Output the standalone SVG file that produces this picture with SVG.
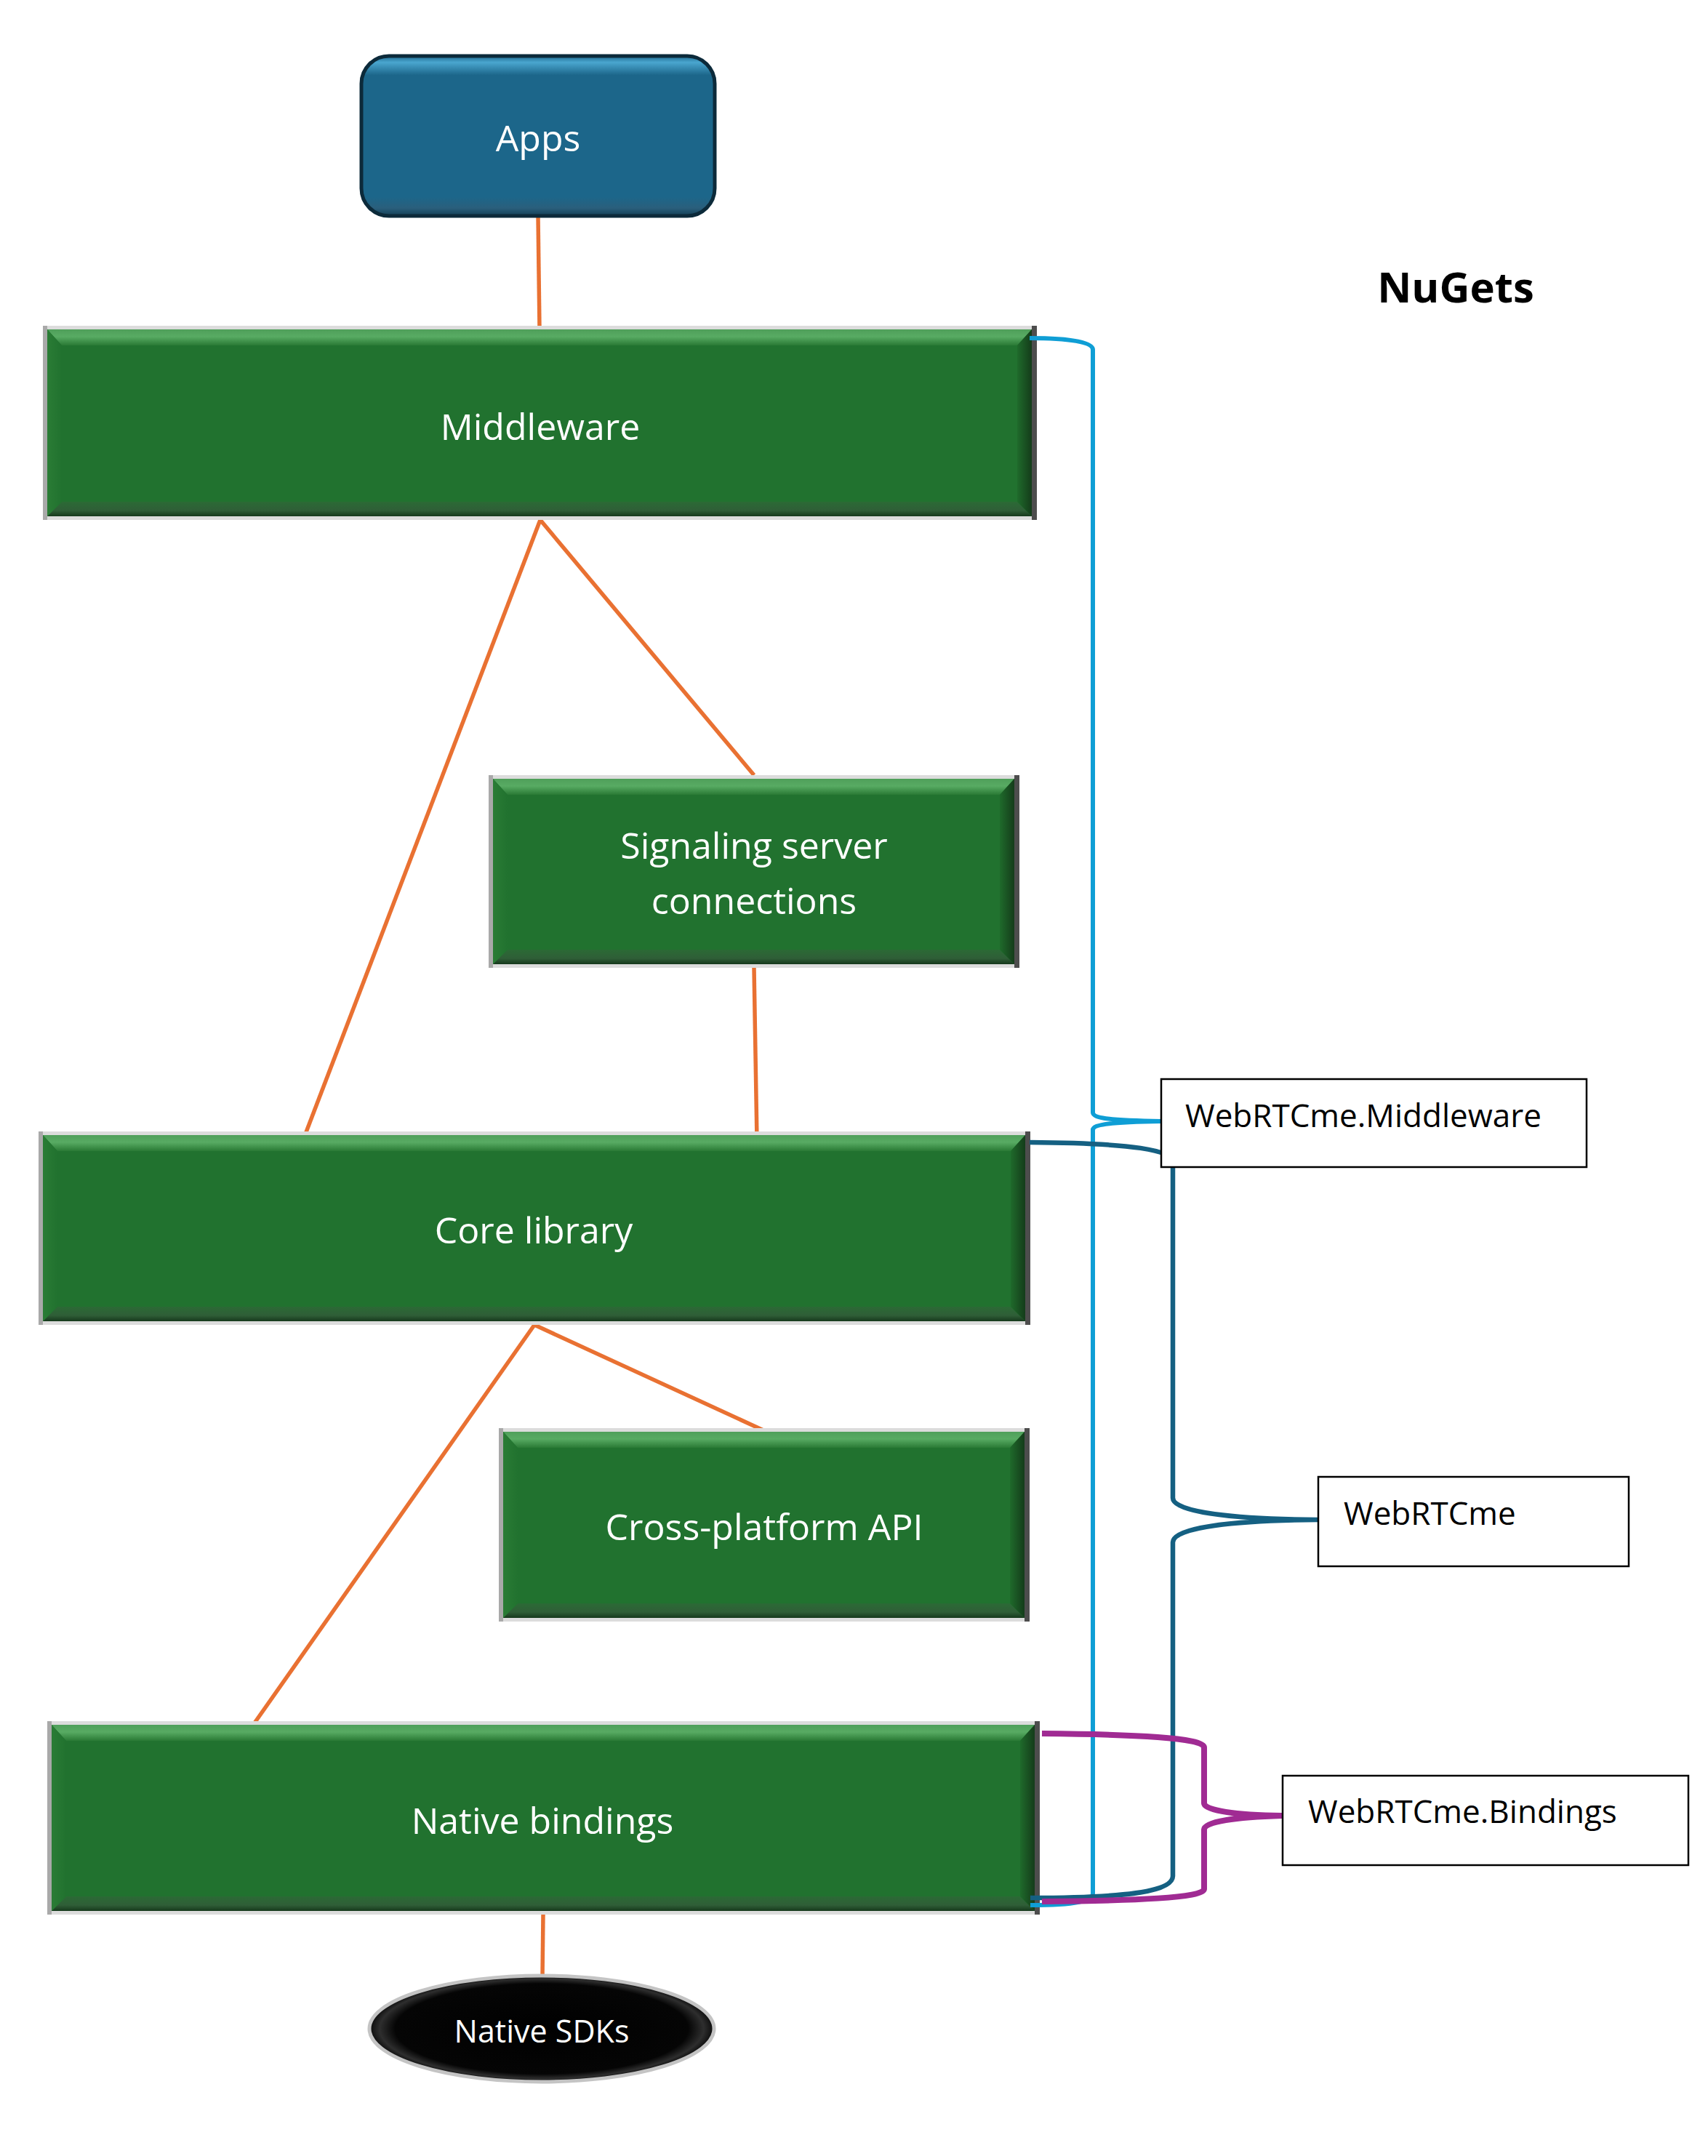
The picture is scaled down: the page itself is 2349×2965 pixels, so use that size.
<svg xmlns="http://www.w3.org/2000/svg" width="2349" height="2965" viewBox="0 0 2349 2965">
<style>
.box-text{font-family:"Open Sans","Noto Sans",sans-serif;font-size:50px;fill:#ffffff;text-anchor:middle}
.lbl-text{font-family:"Open Sans","Noto Sans",sans-serif;font-size:44px;fill:#000000}
.lbl-box{fill:#ffffff;stroke:#000000;stroke-width:2.5}
.conn{stroke:#E97132;stroke-width:5.5;fill:none;stroke-linecap:butt}
.brace{fill:none;stroke-linejoin:round}
.face{fill:#21722F}
.edge-light{fill:#dcdcdc}
.edge-left{fill:#a9a9a9}
.edge-right{fill:#4d4d4d}
</style>
<defs>
<linearGradient id="bevTop" x1="0" y1="0" x2="0" y2="1">
<stop offset="0" stop-color="#4f9f5a"/><stop offset="0.45" stop-color="#58ab63"/><stop offset="1" stop-color="#2a7a35"/>
</linearGradient>
<linearGradient id="bevBot" x1="0" y1="0" x2="0" y2="1">
<stop offset="0" stop-color="#2b6a35"/><stop offset="0.6" stop-color="#2f5e37"/><stop offset="1" stop-color="#16391c"/>
</linearGradient>
<linearGradient id="bevRight" x1="0" y1="0" x2="1" y2="0">
<stop offset="0" stop-color="#1f6a2b"/><stop offset="1" stop-color="#143c1a"/>
</linearGradient>
<linearGradient id="bevLeft" x1="0" y1="0" x2="1" y2="0">
<stop offset="0" stop-color="#2a7c35"/><stop offset="1" stop-color="#21722F"/>
</linearGradient>
<linearGradient id="appsGrad" x1="0" y1="0" x2="0" y2="1">
<stop offset="0" stop-color="#1f6a8f"/><stop offset="0.04" stop-color="#4aa6cf"/><stop offset="0.12" stop-color="#1c668a"/><stop offset="0.88" stop-color="#1c668a"/><stop offset="0.95" stop-color="#2a5f7c"/><stop offset="1" stop-color="#143f55"/>
</linearGradient>
<radialGradient id="sdkGrad" cx="0.5" cy="0.5" r="0.5">
<stop offset="0" stop-color="#000000"/><stop offset="0.85" stop-color="#050505"/><stop offset="0.94" stop-color="#2e2e2e"/><stop offset="1" stop-color="#0a0a0a"/>
</radialGradient>
</defs>
<rect x="0" y="0" width="2349" height="2965" fill="#ffffff"/>

<g id="connectors">
<line class="conn" x1="740" y1="297" x2="742" y2="452"/>
<line class="conn" x1="743" y1="715" x2="1037" y2="1066"/>
<line class="conn" x1="743" y1="715" x2="416" y2="1570"/>
<line class="conn" x1="1037" y1="1331" x2="1041" y2="1568"/>
<line class="conn" x1="735" y1="1822" x2="1050" y2="1967"/>
<line class="conn" x1="735" y1="1822" x2="344" y2="2378"/>
<line class="conn" x1="747" y1="2633" x2="746" y2="2718"/>
</g>

<g id="apps">
<rect x="497" y="77" width="486" height="220" rx="38" ry="38" fill="url(#appsGrad)" stroke="#0c2a3a" stroke-width="5"/>
<text class="box-text" x="740" y="208">Apps</text>
</g>

<g id="middleware">
<rect class="edge-light" x="59" y="448" width="1367" height="267"/>
<rect class="edge-left" x="59" y="448" width="6" height="267"/>
<rect class="edge-right" x="1419" y="448" width="7" height="267"/>
<rect class="face" x="65" y="453" width="1354" height="257"/>
<polygon fill="url(#bevTop)" points="65,453 1419,453 1399,475 85,475"/>
<polygon fill="url(#bevBot)" points="65,710 1419,710 1399,690 85,690"/>
<polygon fill="url(#bevRight)" points="1419,453 1419,710 1399,690 1399,475"/>
<polygon fill="url(#bevLeft)" points="65,453 65,710 85,690 85,475"/>
<text class="box-text" x="743" y="605">Middleware</text>
</g>

<g id="signaling">
<rect class="edge-light" x="672" y="1066" width="730" height="265"/>
<rect class="edge-left" x="672" y="1066" width="6" height="265"/>
<rect class="edge-right" x="1395" y="1066" width="7" height="265"/>
<rect class="face" x="678" y="1071" width="717" height="255"/>
<polygon fill="url(#bevTop)" points="678,1071 1395,1071 1375,1093 698,1093"/>
<polygon fill="url(#bevBot)" points="678,1326 1395,1326 1375,1306 698,1306"/>
<polygon fill="url(#bevRight)" points="1395,1071 1395,1326 1375,1306 1375,1093"/>
<polygon fill="url(#bevLeft)" points="678,1071 678,1326 698,1306 698,1093"/>
<text class="box-text" x="1037" y="1181">Signaling server</text>
<text class="box-text" x="1037" y="1257">connections</text>
</g>

<g id="core">
<rect class="edge-light" x="53" y="1556" width="1364" height="266"/>
<rect class="edge-left" x="53" y="1556" width="6" height="266"/>
<rect class="edge-right" x="1410" y="1556" width="7" height="266"/>
<rect class="face" x="59" y="1561" width="1351" height="256"/>
<polygon fill="url(#bevTop)" points="59,1561 1410,1561 1390,1583 79,1583"/>
<polygon fill="url(#bevBot)" points="59,1817 1410,1817 1390,1797 79,1797"/>
<polygon fill="url(#bevRight)" points="1410,1561 1410,1817 1390,1797 1390,1583"/>
<polygon fill="url(#bevLeft)" points="59,1561 59,1817 79,1797 79,1583"/>
<text class="box-text" x="734" y="1710">Core library</text>
</g>

<g id="crossplatform">
<rect class="edge-light" x="686" y="1964" width="730" height="266"/>
<rect class="edge-left" x="686" y="1964" width="6" height="266"/>
<rect class="edge-right" x="1409" y="1964" width="7" height="266"/>
<rect class="face" x="692" y="1969" width="717" height="256"/>
<polygon fill="url(#bevTop)" points="692,1969 1409,1969 1389,1991 712,1991"/>
<polygon fill="url(#bevBot)" points="692,2225 1409,2225 1389,2205 712,2205"/>
<polygon fill="url(#bevRight)" points="1409,1969 1409,2225 1389,2205 1389,1991"/>
<polygon fill="url(#bevLeft)" points="692,1969 692,2225 712,2205 712,1991"/>
<text class="box-text" x="1051" y="2118">Cross-platform API</text>
</g>

<g id="nativebindings">
<rect class="edge-light" x="65" y="2367" width="1365" height="266"/>
<rect class="edge-left" x="65" y="2367" width="6" height="266"/>
<rect class="edge-right" x="1423" y="2367" width="7" height="266"/>
<rect class="face" x="71" y="2372" width="1352" height="256"/>
<polygon fill="url(#bevTop)" points="71,2372 1423,2372 1403,2394 91,2394"/>
<polygon fill="url(#bevBot)" points="71,2628 1423,2628 1403,2608 91,2608"/>
<polygon fill="url(#bevRight)" points="1423,2372 1423,2628 1403,2608 1403,2394"/>
<polygon fill="url(#bevLeft)" points="71,2372 71,2628 91,2608 91,2394"/>
<text class="box-text" x="746" y="2522">Native bindings</text>
</g>

<g id="nativesdks">
<ellipse cx="745" cy="2790" rx="237" ry="73" fill="url(#sdkGrad)" stroke="#c4c4c4" stroke-width="5"/>
<text class="box-text" x="745" y="2809" style="font-size:43px">Native SDKs</text>
</g>

<g id="nugets">
<text x="2002" y="416" style="font-family:'Open Sans','Noto Sans',sans-serif;font-size:58px;font-weight:bold;fill:#000000;text-anchor:middle">NuGets</text>
</g>

<g id="braces">
<path class="brace" stroke="#0F9ED5" stroke-width="6" d="M1416,465 C1470,465 1503,470 1503,481 L1503,1530 C1503,1538 1530,1541 1597,1542 C1530,1543 1503,1546 1503,1554 L1503,2604 C1503,2614 1480,2620 1417,2620"/>
<path class="brace" stroke="#156082" stroke-width="6.5" d="M1416,1571 C1560,1572 1613,1582 1613,1598 L1613,2060 C1613,2080 1700,2089 1812,2090 C1700,2091 1613,2100 1613,2121 L1613,2580 C1613,2600 1560,2610 1417,2610"/>
<path class="brace" stroke="#A02B93" stroke-width="8" d="M1433,2384 C1560,2385 1656,2390 1656,2403 L1656,2480 C1656,2490 1700,2496 1763,2497 C1700,2499 1656,2505 1656,2516 L1656,2598 C1656,2610 1560,2614 1433,2615"/>
</g>

<g id="label-middleware">
<rect class="lbl-box" x="1597" y="1484" width="585" height="121"/>
<text class="lbl-text" x="1630" y="1550">WebRTCme.Middleware</text>
</g>
<g id="label-webrtcme">
<rect class="lbl-box" x="1813" y="2031" width="427" height="123"/>
<text class="lbl-text" x="1848" y="2097">WebRTCme</text>
</g>
<g id="label-bindings">
<rect class="lbl-box" x="1764" y="2442" width="558" height="123"/>
<text class="lbl-text" x="1799" y="2507">WebRTCme.Bindings</text>
</g>
</svg>
